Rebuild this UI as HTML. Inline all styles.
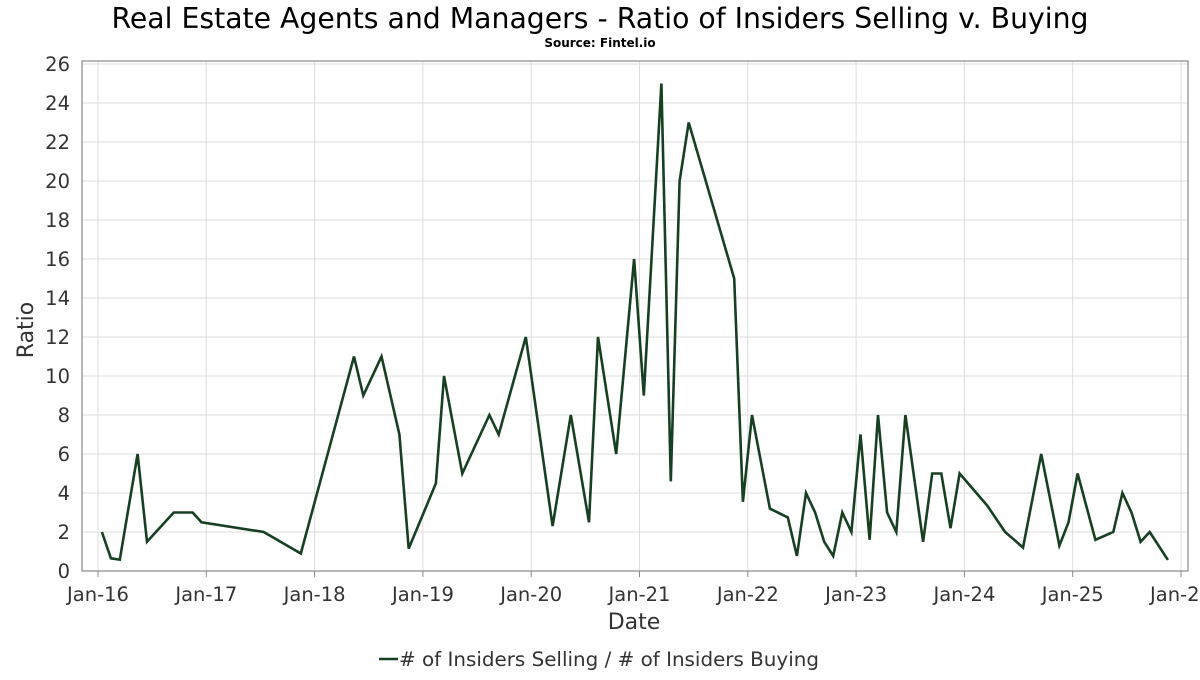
<!DOCTYPE html>
<html><head><meta charset="utf-8"><style>
body{margin:0;background:#fff;font-family:"Liberation Sans","DejaVu Sans",sans-serif;}
svg text{font-family:"DejaVu Sans","Liberation Sans",sans-serif;}
</style></head><body>
<svg id="chart" width="1200" height="675" xmlns="http://www.w3.org/2000/svg">
<rect width="1200" height="675" fill="#fff"/>
<text x="600" y="28" text-anchor="middle" font-size="28.3" fill="#000">Real Estate Agents and Managers - Ratio of Insiders Selling v. Buying</text>
<text x="600" y="47" text-anchor="middle" font-size="12" font-weight="bold" fill="#000">Source: Fintel.io</text>
<g id="grid"></g>
<rect x="82" y="61" width="1106" height="510" fill="none" stroke="#888" stroke-width="1.2"/>
<g id="ticks"></g>
<path id="line" fill="none" stroke="#173f22" stroke-width="2.6" stroke-linejoin="miter"/>
<text transform="translate(33,330) rotate(-90)" text-anchor="middle" font-size="22" fill="#333">Ratio</text>
<text x="634" y="629" text-anchor="middle" font-size="22" fill="#333">Date</text>
<g>
<line x1="379" y1="659" x2="398" y2="659" stroke="#173f22" stroke-width="2.6"/>
<text x="399" y="666" font-size="19.9" fill="#333"># of Insiders Selling / # of Insiders Buying</text>
</g>
</svg>
<script>
const dates=[2016.036,2016.119,2016.201,2016.366,2016.452,2016.699,2016.874,2016.956,2017.530,2017.873,2018.364,2018.450,2018.618,2018.783,2018.869,2019.120,2019.195,2019.364,2019.614,2019.700,2019.950,2020.198,2020.366,2020.534,2020.617,2020.785,2020.950,2021.040,2021.202,2021.289,2021.370,2021.454,2021.874,2021.955,2022.039,2022.204,2022.369,2022.453,2022.537,2022.621,2022.705,2022.789,2022.873,2022.957,2023.041,2023.125,2023.202,2023.286,2023.371,2023.455,2023.619,2023.703,2023.787,2023.872,2023.956,2024.211,2024.376,2024.460,2024.541,2024.709,2024.877,2024.961,2025.045,2025.210,2025.375,2025.459,2025.543,2025.627,2025.711,2025.879];
const values=[2,0.65,0.58,6,1.5,3,3,2.5,2,0.9,11,9,11,7,1.15,4.5,10,5,8,7,12,2.3,8,2.5,12,6,16,9,25,4.6,20,23,15,3.55,8,3.2,2.75,0.77,4,3,1.5,0.77,3,2,7,1.6,8,3,2,8,1.5,5,5,2.2,5,3.35,2,1.6,1.2,6,1.3,2.5,5,1.6,2,4,3,1.5,2,0.57];
const yTicks=[0,2,4,6,8,10,12,14,16,18,20,22,24,26];
const xTickYears=[2016,2017,2018,2019,2020,2021,2022,2023,2024,2025,2026];
const xTickLabels=["Jan-16","Jan-17","Jan-18","Jan-19","Jan-20","Jan-21","Jan-22","Jan-23","Jan-24","Jan-25","Jan-26"];
const NS="http://www.w3.org/2000/svg";
const xs=d=>98+(d-2016)*108.3;
const ys=v=>571-v*(507/26);
const grid=document.getElementById('grid'),ticks=document.getElementById('ticks');
function mk(tag,attrs,parent){const e=document.createElementNS(NS,tag);for(const k in attrs)e.setAttribute(k,attrs[k]);parent.appendChild(e);return e;}
yTicks.forEach(v=>{
 const g=mk('line',{x1:82,x2:1188,y1:ys(v),y2:ys(v),stroke:'#ddd','stroke-width':1},grid);
 
 
 const t=mk('text',{x:70,y:ys(v)+7,'text-anchor':'end','font-size':19.5,fill:'#333'},ticks);
 t.textContent=v;
 
 
});
xTickYears.forEach((y,i)=>{
 const g=mk('line',{x1:xs(y),x2:xs(y),y1:61,y2:571,stroke:'#ddd','stroke-width':1},grid);
 
 
 const tk=mk('line',{x1:xs(y),x2:xs(y),y1:571,y2:577,stroke:'#888','stroke-width':1},ticks);
 
 
 const t=mk('text',{x:xs(y),y:601,'text-anchor':'middle','font-size':19.5,fill:'#333'},ticks);
 t.textContent=xTickLabels[i];
 
 
});
document.getElementById('line').setAttribute('d',dates.map((d,i)=>(i?'L':'M')+xs(d).toFixed(1)+','+ys(values[i]).toFixed(1)).join(''));
</script>
</body></html>
